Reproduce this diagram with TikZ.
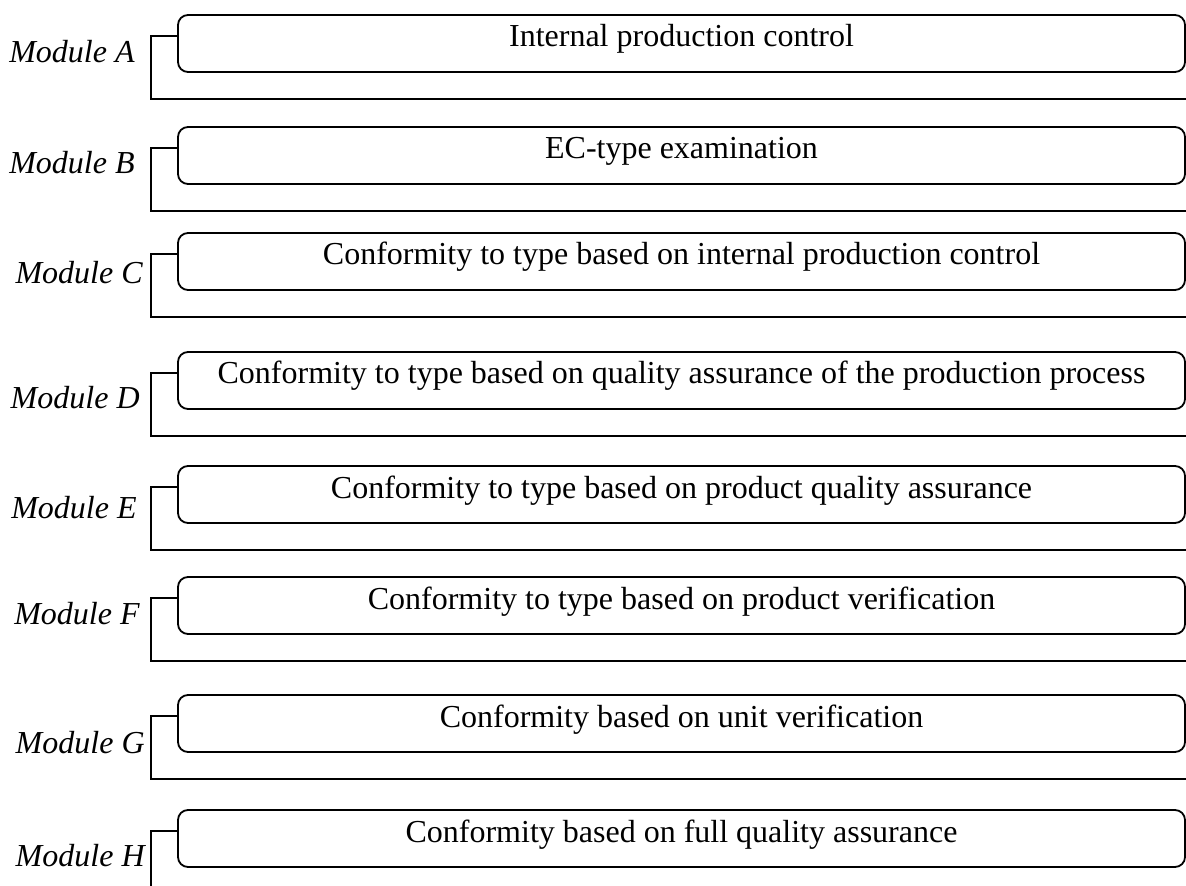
\documentclass[tikz,border=0pt]{standalone}
\usepackage{fontspec}
\setmainfont{Liberation Serif}
\usetikzlibrary{positioning}

\begin{document}
\begin{tikzpicture}[node distance=27pt,
    every node/.style={font=\fontsize{16pt}{19pt}\selectfont},
    modbox/.style={draw, rounded corners=5pt, line width=0.9pt, outer sep=0pt, minimum width=503.5pt, inner xsep=0pt, inner ysep=0pt, text height=16pt, text depth=12.5pt},
    modlabel/.style={font=\fontsize{16pt}{19pt}\selectfont\itshape, inner sep=0pt, anchor=base east},
    bracket/.style={line width=0.6pt}]
    \useasboundingbox (0,0) rectangle (593pt,-443pt);

    \node[modbox, anchor=north west] (boxA) at (89pt,-7.5pt) {Internal production control};
    \node[modbox, below=27.5pt of boxA] (boxB) {EC-type examination};
    \node[modbox, below=24.5pt of boxB] (boxC) {Conformity to type based on internal production control};
    \node[modbox, below=31pt of boxC] (boxD) {Conformity to type based on quality assurance of the production process};
    \node[modbox, below=28.5pt of boxD] (boxE) {Conformity to type based on product quality assurance};
    \node[modbox, below=27pt of boxE] (boxF) {Conformity to type based on product verification};
    \node[modbox, below=30.5pt of boxF] (boxG) {Conformity based on unit verification};
    \node[modbox, below=29pt of boxG] (boxH) {Conformity based on full quality assurance};

    \node[modlabel] (labA) at ([shift={(-21.5pt,4.5pt)}]boxA.south west) {Module A};
    \node[modlabel] (labB) at ([shift={(-21.5pt,5pt)}]boxB.south west) {Module B};
    \node[modlabel] (labC) at ([shift={(-17.5pt,3pt)}]boxC.south west) {Module C};
    \node[modlabel] (labD) at ([shift={(-19pt,0pt)}]boxD.south west) {Module D};
    \node[modlabel] (labE) at ([shift={(-20.5pt,2.5pt)}]boxE.south west) {Module E};
    \node[modlabel] (labF) at ([shift={(-19pt,5pt)}]boxF.south west) {Module F};
    \node[modlabel] (labG) at ([shift={(-16.5pt,-0.5pt)}]boxG.south west) {Module G};
    \node[modlabel] (labH) at ([shift={(-16.5pt,0.5pt)}]boxH.south west) {Module H};

    \draw[bracket] ([yshift=-10.5pt]boxA.north west) -| ([shift={(-13.5pt,-13.5pt)}]boxA.south west) -- ([shift={(1pt,-13.5pt)}]boxA.south east);
    \draw[bracket] ([yshift=-10.5pt]boxB.north west) -| ([shift={(-13.5pt,-13.5pt)}]boxB.south west) -- ([shift={(1pt,-13.5pt)}]boxB.south east);
    \draw[bracket] ([yshift=-10.5pt]boxC.north west) -| ([shift={(-13.5pt,-13.5pt)}]boxC.south west) -- ([shift={(1pt,-13.5pt)}]boxC.south east);
    \draw[bracket] ([yshift=-10.5pt]boxD.north west) -| ([shift={(-13.5pt,-13.5pt)}]boxD.south west) -- ([shift={(1pt,-13.5pt)}]boxD.south east);
    \draw[bracket] ([yshift=-10.5pt]boxE.north west) -| ([shift={(-13.5pt,-13.5pt)}]boxE.south west) -- ([shift={(1pt,-13.5pt)}]boxE.south east);
    \draw[bracket] ([yshift=-10.5pt]boxF.north west) -| ([shift={(-13.5pt,-13.5pt)}]boxF.south west) -- ([shift={(1pt,-13.5pt)}]boxF.south east);
    \draw[bracket] ([yshift=-10.5pt]boxG.north west) -| ([shift={(-13.5pt,-13.5pt)}]boxG.south west) -- ([shift={(1pt,-13.5pt)}]boxG.south east);
    \draw[bracket] ([yshift=-10.5pt]boxH.north west) -| ([shift={(-13.5pt,-20pt)}]boxH.south west);
\end{tikzpicture}
\end{document}
